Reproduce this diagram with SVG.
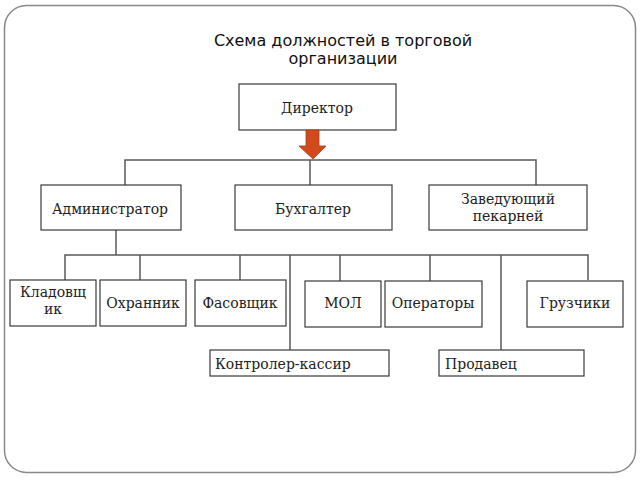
<svg xmlns="http://www.w3.org/2000/svg" width="640" height="480" viewBox="0 0 640 480">
<style>
.box{fill:#fff;stroke:#3a3a3a;stroke-width:1.2}
.lbl{font-family:"DejaVu Serif","Liberation Serif",serif;font-size:14px;fill:#222;text-anchor:middle}
.lbll{font-family:"DejaVu Serif","Liberation Serif",serif;font-size:14px;fill:#222}
.ttl{font-family:"DejaVu Sans","Liberation Sans",sans-serif;font-size:16px;fill:#111;text-anchor:middle}
.conn{fill:none;stroke:#5a5a5a;stroke-width:1.5}
</style>
<rect x="4.5" y="5.5" width="631" height="467" rx="22" fill="#fff" stroke="#888" stroke-width="1.5"/>
<text class="ttl" x="343" y="46">Схема должностей в торговой</text>
<text class="ttl" x="343" y="64">организации</text>
<g id="connectors">
<path class="conn" d="M125 185V160H536V185M310 160V185"/>
<path class="conn" d="M116 230V255M65 280V255H588V280M140 255V280M240 255V280M290 255V350M340 255V281M430 255V281M501 255V350"/>
</g>
<g id="director"><rect class="box" x="239" y="84" width="157" height="46"/><text class="lbl" x="317" y="113">Директор</text></g>
<g id="arrow"><path d="M306 130H319V146H326L313 159L299 146H306Z" fill="#d24a1c" stroke="#b53a12" stroke-width="0.8"/></g>
<g id="admin"><rect class="box" x="41" y="185" width="140" height="45"/><text class="lbl" x="110" y="214">Администратор</text></g>
<g id="buh"><rect class="box" x="235" y="185" width="157" height="45"/><text class="lbl" x="313" y="214">Бухгалтер</text></g>
<g id="zav"><rect class="box" x="429" y="185" width="158" height="45"/><text class="lbl" x="508" y="204">Заведующий</text><text class="lbl" x="508" y="221">пекарней</text></g>
<g id="klad"><rect class="box" x="10" y="280" width="86" height="46"/><text class="lbl" x="53" y="297">Кладовщ</text><text class="lbl" x="53" y="314">ик</text></g>
<g id="ohr"><rect class="box" x="100" y="280" width="86" height="46"/><text class="lbl" x="143" y="308">Охранник</text></g>
<g id="fas"><rect class="box" x="195" y="280" width="91" height="46"/><text class="lbl" x="240" y="308">Фасовщик</text></g>
<g id="mol"><rect class="box" x="305" y="281" width="76" height="46"/><text class="lbl" x="343" y="308">МОЛ</text></g>
<g id="oper"><rect class="box" x="385" y="281" width="97" height="46"/><text class="lbl" x="433" y="308">Операторы</text></g>
<g id="gruz"><rect class="box" x="527" y="281" width="96" height="46"/><text class="lbl" x="575" y="308">Грузчики</text></g>
<g id="kontr"><rect class="box" x="210" y="350" width="179" height="26"/><text class="lbll" x="215" y="369">Контролер-кассир</text></g>
<g id="prod"><rect class="box" x="439" y="350" width="145" height="26"/><text class="lbll" x="445" y="369">Продавец</text></g>
</svg>
